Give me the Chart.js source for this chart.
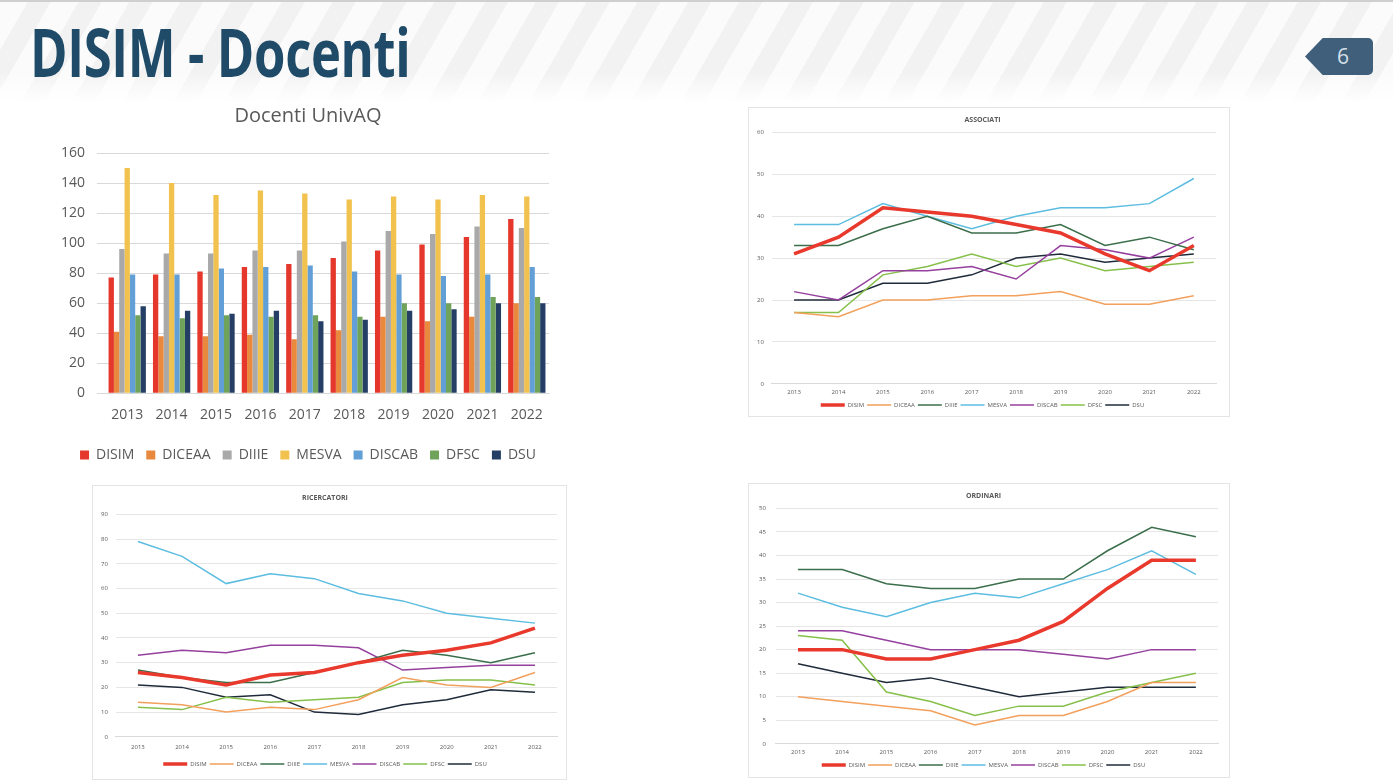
<!DOCTYPE html>
<html>
<head>
<meta charset="utf-8">
<script src="https://cdn.jsdelivr.net/npm/chart.js@4.4.0/dist/chart.umd.min.js"></script>
<style>
  html, body { margin: 0; padding: 0; }
  body {
    width: 1393px; height: 784px; position: relative; overflow: hidden;
    background: #ffffff; font-family: "Open Sans", sans-serif;
  }
  .band {
    position: absolute; left: 0; top: 0; width: 1393px; height: 100px;
    background: repeating-linear-gradient(120deg, #fbfbfb 0px, #fbfbfb 24px, #f2f2f2 24px, #f2f2f2 44px);
    border-top: 2px solid #cfcfcf;
  }
  .band::after {
    content: ""; position: absolute; left: 0; right: 0; bottom: 0; height: 30px;
    background: linear-gradient(to bottom, rgba(255,255,255,0), #ffffff);
  }
  .title {
    position: absolute; left: 30px; top: 6px; margin: 0;
    font-family: "Open Sans", sans-serif; font-weight: 700; font-size: 66px;
    color: #1f4b68; transform: scaleX(0.77); transform-origin: left top;
    white-space: nowrap; letter-spacing: -0.5px;
  }
  .badge {
    position: absolute; left: 1305px; top: 38px; width: 68px; height: 37px;
    background: #3f5f7a; border-radius: 0 5px 5px 0;
    clip-path: polygon(0 50%, 26% 0, 100% 0, 100% 100%, 26% 100%);
    color: #d5e0ea; font-size: 21px; text-align: center; line-height: 37px;
  }
  .badge span { position: relative; left: 4px; }
  .box { position: absolute; background: #ffffff; border: 1px solid #e4e4e4; }
  canvas { display: block; }
</style>
</head>
<body>
<div class="band"></div>
<h1 class="title">DISIM - Docenti</h1>
<div class="badge"><span>6</span></div>

<div style="position:absolute; left:49px; top:100px;">
  <canvas id="barChart" width="516" height="372"></canvas>
</div>
<div class="box" style="left:748px; top:107px;">
  <canvas id="assChart" width="480" height="308"></canvas>
</div>
<div class="box" style="left:92px; top:485px;">
  <canvas id="ricChart" width="473" height="293"></canvas>
</div>
<div class="box" style="left:748px; top:483px;">
  <canvas id="ordChart" width="480" height="293"></canvas>
</div>

<script>
// Categories
const years = ["2013", "2014", "2015", "2016", "2017", "2018", "2019", "2020", "2021", "2022"];
const depts = ["DISIM", "DICEAA", "DIIIE", "MESVA", "DISCAB", "DFSC", "DSU"];

// Docenti UnivAQ (totals)
const totDISIM  = [77, 79, 81, 84, 86, 90, 95, 99, 104, 116];
const totDICEAA = [41, 38, 38, 39, 36, 42, 51, 48, 51, 60];
const totDIIIE  = [96, 93, 93, 95, 95, 101, 108, 106, 111, 110];
const totMESVA  = [150, 140, 132, 135, 133, 129, 131, 129, 132, 131];
const totDISCAB = [79, 79, 83, 84, 85, 81, 79, 78, 79, 84];
const totDFSC   = [52, 50, 52, 51, 52, 51, 60, 60, 64, 64];
const totDSU    = [58, 55, 53, 55, 48, 49, 55, 56, 60, 60];

// Associati
const assDISIM  = [31, 35, 42, 41, 40, 38, 36, 31, 27, 33];
const assDICEAA = [17, 16, 20, 20, 21, 21, 22, 19, 19, 21];
const assDIIIE  = [33, 33, 37, 40, 36, 36, 38, 33, 35, 32];
const assMESVA  = [38, 38, 43, 40, 37, 40, 42, 42, 43, 49];
const assDISCAB = [22, 20, 27, 27, 28, 25, 33, 32, 30, 35];
const assDFSC   = [17, 17, 26, 28, 31, 28, 30, 27, 28, 29];
const assDSU    = [20, 20, 24, 24, 26, 30, 31, 29, 30, 31];

// Ricercatori
const ricDISIM  = [26, 24, 21, 25, 26, 30, 33, 35, 38, 44];
const ricDICEAA = [14, 13, 10, 12, 11, 15, 24, 21, 20, 26];
const ricDIIIE  = [27, 24, 22, 22, 26, 30, 35, 33, 30, 34];
const ricMESVA  = [79, 73, 62, 66, 64, 58, 55, 50, 48, 46];
const ricDISCAB = [33, 35, 34, 37, 37, 36, 27, 28, 29, 29];
const ricDFSC   = [12, 11, 16, 14, 15, 16, 22, 23, 23, 21];
const ricDSU    = [21, 20, 16, 17, 10, 9, 13, 15, 19, 18];

// Ordinari
const ordDISIM  = [20, 20, 18, 18, 20, 22, 26, 33, 39, 39];
const ordDICEAA = [10, 9, 8, 7, 4, 6, 6, 9, 13, 13];
const ordDIIIE  = [37, 37, 34, 33, 33, 35, 35, 41, 46, 44];
const ordMESVA  = [32, 29, 27, 30, 32, 31, 34, 37, 41, 36];
const ordDISCAB = [24, 24, 22, 20, 20, 20, 19, 18, 20, 20];
const ordDFSC   = [23, 22, 11, 9, 6, 8, 8, 11, 13, 15];
const ordDSU    = [17, 15, 13, 14, 12, 10, 11, 12, 12, 12];

// Colours
const barColors  = ["#e5372b", "#e8893e", "#a9a9a9", "#f2c24f", "#629fd6", "#6fa35a", "#253e66"];
const lineColors = ["#e8392c", "#f2a05c", "#3b6e4a", "#5cbde0", "#95409e", "#86c04a", "#1f2b3a"];

const gridColor = "#d9d9d9";
const textColor = "#595959";

// Title and legend of the bar chart sit a bit right of the plot centre on the slide
const shiftCaptions = {
    id: "shiftCaptions",
    afterLayout(chart) {
        [chart.legend, chart.titleBlock].forEach(b => {
            if (b) { b.left += 9; b.right += 9; }
        });
    }
};

// Bar chart
new Chart(document.getElementById("barChart"), {
    type: "bar",
    data: {
        labels: years,
        datasets: [totDISIM, totDICEAA, totDIIIE, totMESVA, totDISCAB, totDFSC, totDSU].map((vals, i) => ({
            label: depts[i],
            data: vals,
            backgroundColor: barColors[i],
            barPercentage: 1.0,
            categoryPercentage: 0.84
        }))
    },
    options: {
        responsive: false,
        animation: false,
        devicePixelRatio: 1,
        layout: { padding: { left: 0, right: 16, top: 0, bottom: 0 } },
        plugins: {
            title: {
                display: true,
                text: "Docenti UnivAQ",
                color: textColor,
                font: { family: "Open Sans", size: 20, weight: "normal" },
                padding: { top: 4, bottom: 25 }
            },
            legend: {
                position: "bottom",
                labels: {
                    color: textColor,
                    font: { family: "Open Sans", size: 14 },
                    boxWidth: 9,
                    boxHeight: 9,
                    padding: 12
                }
            },
            tooltip: { enabled: false }
        },
        scales: {
            x: {
                grid: { display: false },
                border: { color: gridColor },
                ticks: { color: textColor, font: { family: "Open Sans", size: 14 }, padding: 5 },
                afterFit: (scale) => { scale.height += 8; }
            },
            y: {
                min: 0,
                max: 160,
                ticks: { stepSize: 20, color: textColor, font: { family: "Open Sans", size: 14 }, padding: 12 },
                grid: { color: gridColor },
                border: { display: false }
            }
        }
    },
    plugins: [shiftCaptions]
});

function lineChart(id, title, seriesList, maxY, step, lay) {
    new Chart(document.getElementById(id), {
        type: "line",
        data: {
            labels: years,
            datasets: seriesList.map((vals, i) => ({
                label: depts[i],
                data: vals,
                borderColor: lineColors[i],
                backgroundColor: lineColors[i],
                borderWidth: i === 0 ? 3.5 : 1.5,
                pointRadius: 0,
                tension: 0,
                order: i === 0 ? 0 : 1
            }))
        },
        options: {
            responsive: false,
            animation: false,
            devicePixelRatio: 1,
            layout: { padding: { left: 0, right: lay.right, top: 2, bottom: lay.bottom } },
            plugins: {
                title: {
                    display: true,
                    text: title,
                    color: textColor,
                    font: { family: "Open Sans", size: 7, weight: "bold" },
                    padding: { top: 6, bottom: lay.titleGap }
                },
                legend: {
                    position: "bottom",
                    labels: {
                        color: textColor,
                        font: { family: "Open Sans", size: 6 },
                        usePointStyle: true,
                        pointStyle: "line",
                        pointStyleWidth: 24,
                        boxHeight: 4,
                        padding: 3
                    }
                },
                tooltip: { enabled: false }
            },
            scales: {
                x: {
                    offset: true,
                    grid: { display: false, drawTicks: false },
                    border: { color: gridColor },
                    ticks: { color: textColor, font: { family: "Open Sans", size: 6 }, padding: lay.xPad },
                    afterFit: (scale) => { scale.height += lay.extra; }
                },
                y: {
                    min: 0,
                    max: maxY,
                    ticks: { stepSize: step, color: textColor, font: { family: "Open Sans", size: 6 }, padding: lay.tickPad },
                    grid: { color: "#e6e6e6", drawTicks: false },
                    border: { display: false }
                }
            }
        }
    });
}

lineChart("assChart", "ASSOCIATI",
    [assDISIM, assDICEAA, assDIIIE, assMESVA, assDISCAB, assDFSC, assDSU], 60, 10,
    { right: 13, bottom: -2, titleGap: 8, extra: -2, tickPad: 8, xPad: 5 });
lineChart("ricChart", "RICERCATORI",
    [ricDISIM, ricDICEAA, ricDIIIE, ricMESVA, ricDISCAB, ricDFSC, ricDSU], 90, 10,
    { right: 9, bottom: 2, titleGap: 12, extra: 0, tickPad: 8, xPad: 7 });
lineChart("ordChart", "ORDINARI",
    [ordDISIM, ordDICEAA, ordDIIIE, ordMESVA, ordDISCAB, ordDFSC, ordDSU], 50, 5,
    { right: 11, bottom: -1, titleGap: 8, extra: -2, tickPad: 10, xPad: 5 });
</script>
</body>
</html>
